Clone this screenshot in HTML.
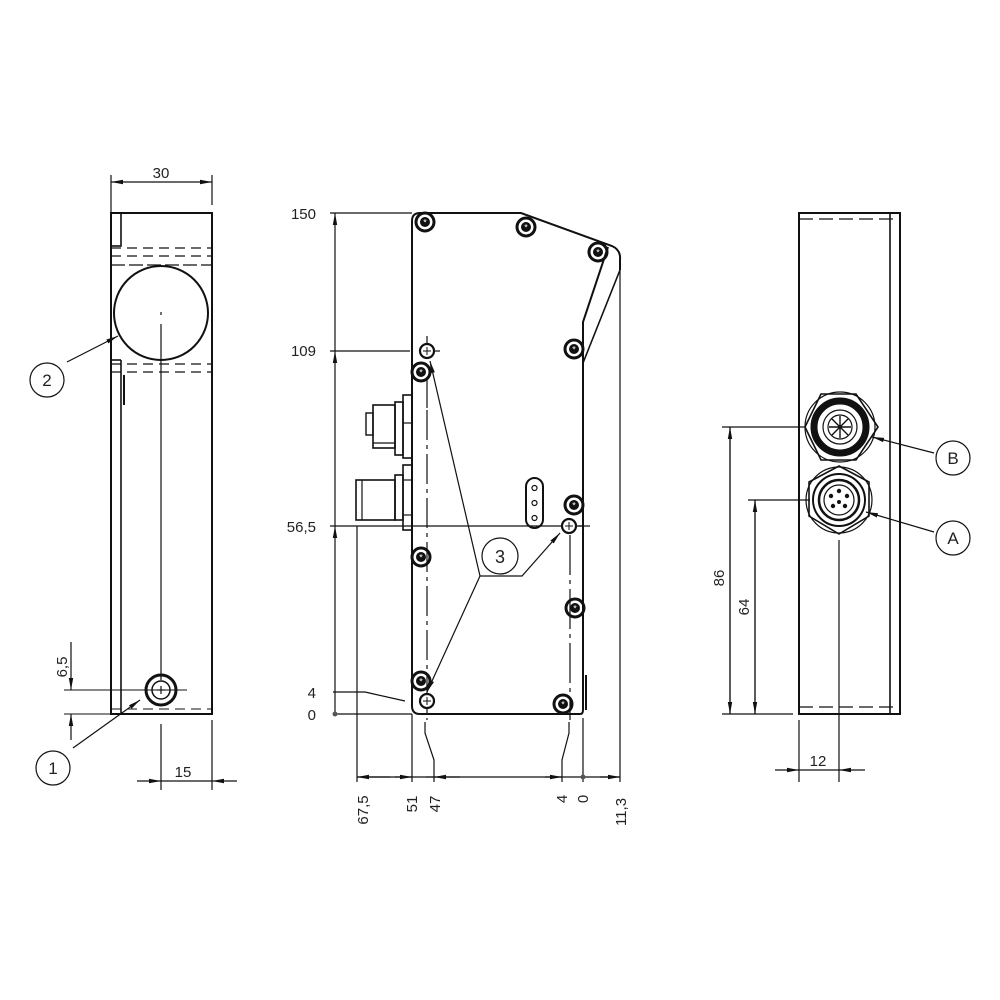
<!DOCTYPE html>
<html><head><meta charset="utf-8"><style>
html,body{margin:0;padding:0;background:#fff;}
svg{display:block;}
text{font-family:"Liberation Sans","DejaVu Sans",sans-serif;font-size:15px;fill:#222;}
</style></head><body>
<svg width="1000" height="1000" viewBox="0 0 1000 1000" xmlns="http://www.w3.org/2000/svg">
<defs>
<marker id="ar" viewBox="0 0 12 6" refX="12" refY="3" markerWidth="12" markerHeight="6" markerUnits="userSpaceOnUse" orient="auto-start-reverse"><path d="M0,0.8 L12,3 L0,5.2Z" fill="#111"/></marker>
<g id="scr"><circle r="9" fill="none" stroke="#111" stroke-width="3"/><circle r="5" fill="#111"/><text x="0" y="3.5" text-anchor="middle" style="font-size:9px;fill:#fff">*</text></g>
<g id="hol"><circle r="7" fill="#fff" stroke="#111" stroke-width="2.2"/><line x1="-4" y1="0" x2="4" y2="0" stroke="#111" stroke-width="1"/><line x1="0" y1="-4" x2="0" y2="4" stroke="#111" stroke-width="1"/></g>
</defs>
<g fill="none" stroke="#111" stroke-width="1.2">
<!-- LEFT VIEW -->
<rect x="111" y="213" width="101" height="501" stroke-width="2"/>
<rect x="111" y="213" width="10" height="33" stroke-width="1.6"/>
<line x1="111" y1="248" x2="212" y2="248" stroke-dasharray="10,6"/>
<line x1="111" y1="256" x2="212" y2="256" stroke-dasharray="10,6"/>
<line x1="111" y1="265" x2="212" y2="265" stroke-dasharray="14,4"/>
<circle cx="161" cy="313" r="47" stroke-width="2"/>
<line x1="111" y1="364" x2="212" y2="364" stroke-dasharray="10,6"/>
<line x1="111" y1="372" x2="212" y2="372" stroke-dasharray="10,6"/>
<line x1="121" y1="360" x2="121" y2="714" stroke-width="1.6"/>
<line x1="111" y1="360" x2="121" y2="360" stroke-width="1.6"/>
<line x1="124" y1="375" x2="124" y2="405" stroke-width="2"/>
<line x1="161" y1="312" x2="161" y2="315"/>
<line x1="161" y1="324" x2="161" y2="680"/>
<line x1="111" y1="709" x2="212" y2="709" stroke-dasharray="10,6" stroke-width="1"/>
<circle cx="161" cy="690" r="15" stroke-width="3"/>
<circle cx="161" cy="690" r="9" stroke-width="1.5"/>
<line x1="157" y1="690" x2="165" y2="690"/><line x1="161" y1="686" x2="161" y2="694"/>
<line x1="64" y1="690" x2="187" y2="690" stroke-width="1"/>
<line x1="64" y1="714" x2="111" y2="714" stroke-width="1"/>
<line x1="71" y1="642" x2="71" y2="690" marker-end="url(#ar)"/>
<line x1="71" y1="740" x2="71" y2="714" marker-end="url(#ar)"/>
<line x1="111" y1="175" x2="111" y2="213"/><line x1="212" y1="175" x2="212" y2="205"/>
<line x1="111" y1="182" x2="212" y2="182" marker-start="url(#ar)" marker-end="url(#ar)"/>
<line x1="161" y1="724" x2="161" y2="790"/><line x1="212" y1="720" x2="212" y2="790"/>
<line x1="137" y1="781" x2="161" y2="781" marker-end="url(#ar)"/>
<line x1="237" y1="781" x2="212" y2="781" marker-end="url(#ar)"/>
<line x1="161" y1="781" x2="212" y2="781"/>
<circle cx="53" cy="768" r="17"/>
<line x1="73" y1="748" x2="140" y2="700" marker-end="url(#ar)"/>
<circle cx="47" cy="380" r="17"/>
<line x1="67" y1="362" x2="118" y2="336" marker-end="url(#ar)"/>

<!-- MIDDLE VIEW -->
<path d="M420,213 L521,213 L612,246 Q621,250 620,260 L620,270" stroke-width="2"/>
<path d="M420,213 Q412,213 412,221 L412,706 Q412,714 420,714 L580,714 Q583,714 583,710 L583,322 L608,247" stroke-width="2"/>
<line x1="620" y1="270" x2="583" y2="363" stroke-width="1.6"/>
<line x1="620" y1="270" x2="620" y2="782"/>
<line x1="586" y1="675" x2="586" y2="710" stroke-width="2"/>
<line x1="427" y1="336" x2="427" y2="345"/>
<line x1="427" y1="378" x2="427" y2="410" stroke-dasharray="30,5,4,5"/>
<line x1="427" y1="410" x2="427" y2="720" stroke-dasharray="30,5,4,5"/>
<line x1="570" y1="535" x2="570" y2="720" stroke-dasharray="40,5,4,5"/>
<!-- connectors -->
<rect x="403" y="395" width="9" height="63" stroke-width="1.6"/>
<line x1="403" y1="423" x2="412" y2="423"/>
<rect x="395" y="402" width="8" height="53" stroke-width="1.6"/>
<rect x="373" y="405" width="22" height="43" stroke-width="1.6"/>
<rect x="366" y="413" width="7" height="22" stroke-width="1.4"/>
<line x1="373" y1="443" x2="395" y2="443"/>
<rect x="403" y="465" width="9" height="65" stroke-width="1.6"/>
<line x1="403" y1="480" x2="412" y2="480"/><line x1="403" y1="515" x2="412" y2="515"/>
<rect x="395" y="475" width="8" height="45" stroke-width="1.6"/>
<rect x="356" y="480" width="39" height="40" stroke-width="1.6"/>
<line x1="362" y1="480" x2="362" y2="520"/>
<!-- slot -->
<rect x="526" y="478" width="17" height="50" rx="8.5" stroke-width="2"/>
<circle cx="534.5" cy="488" r="2.5"/><circle cx="534.5" cy="503" r="2.5"/><circle cx="534.5" cy="518" r="2.5"/>
<!-- dims -->
<line x1="330" y1="213" x2="412" y2="213"/>
<line x1="330" y1="351" x2="410" y2="351"/><line x1="434" y1="351" x2="440" y2="351"/>
<line x1="330" y1="526" x2="583" y2="526"/><line x1="578" y1="526" x2="590" y2="526"/>
<line x1="335" y1="714" x2="412" y2="714"/>
<line x1="335" y1="351" x2="335" y2="213" marker-end="url(#ar)"/>
<line x1="335" y1="526" x2="335" y2="351" marker-end="url(#ar)"/>
<line x1="335" y1="714" x2="335" y2="526" marker-end="url(#ar)"/>
<line x1="333" y1="692" x2="365" y2="692"/><line x1="365" y1="692" x2="405" y2="701"/>
<line x1="357" y1="526" x2="357" y2="782"/>
<line x1="412" y1="714" x2="412" y2="782"/>
<path d="M425,722 L425,733 L434,760 L434,782"/>
<path d="M569,722 L569,733 L562,760 L562,782"/>
<line x1="583" y1="718" x2="583" y2="782"/>
<line x1="357" y1="777" x2="620" y2="777"/>
<line x1="390" y1="777" x2="357" y2="777" marker-end="url(#ar)"/>
<line x1="395" y1="777" x2="412" y2="777" marker-end="url(#ar)"/>
<line x1="433" y1="777" x2="426" y2="777"/>
<line x1="460" y1="777" x2="434" y2="777" marker-end="url(#ar)"/>
<line x1="545" y1="777" x2="562" y2="777" marker-end="url(#ar)"/>
<line x1="600" y1="777" x2="620" y2="777" marker-end="url(#ar)"/>
<!-- callout 3 -->
<circle cx="500" cy="556" r="18"/>
<path d="M480,576 L522,576 L560,533" marker-end="url(#ar)"/>
<line x1="480" y1="576" x2="430" y2="361" marker-end="url(#ar)"/>
<line x1="480" y1="576" x2="427" y2="692" marker-end="url(#ar)"/>

<!-- RIGHT VIEW -->
<rect x="799" y="213" width="101" height="501" stroke-width="2"/>
<line x1="890" y1="213" x2="890" y2="714" stroke-width="1.6"/>
<line x1="799" y1="219" x2="900" y2="219" stroke-dasharray="14,6"/>
<line x1="799" y1="707" x2="900" y2="707" stroke-dasharray="14,6"/>
<line x1="839" y1="540" x2="839" y2="782"/>
<polygon points="821,394 856,394 878,427 856,460 821,460 805,427" stroke-width="1.6"/>
<circle cx="840" cy="427" r="35"/>
<circle cx="840" cy="427" r="26" stroke-width="7"/>
<circle cx="840" cy="427" r="17"/>
<circle cx="840" cy="427" r="12"/>
<path d="M832,419 L848,435 M848,419 L832,435 M840,416 L840,438 M829,427 L851,427" stroke-width="1.4"/>
<polygon points="839,466 869,482 869,516 839,534 809,516 809,482" stroke-width="1.6"/>
<circle cx="839" cy="500" r="33"/>
<circle cx="839" cy="500" r="26" stroke-width="2"/>
<circle cx="839" cy="500" r="20" stroke-width="2.5"/>
<circle cx="839" cy="500" r="15"/>
<g fill="#111" stroke="none"><circle cx="839" cy="491" r="2.2"/><circle cx="831" cy="496" r="2.2"/><circle cx="847" cy="496" r="2.2"/><circle cx="833" cy="506" r="2.2"/><circle cx="845" cy="506" r="2.2"/><circle cx="839" cy="502" r="2"/></g>
<line x1="722" y1="427" x2="805" y2="427"/>
<line x1="748" y1="500" x2="810" y2="500"/>
<line x1="722" y1="714" x2="793" y2="714"/>
<line x1="730" y1="714" x2="730" y2="427" marker-end="url(#ar)"/>
<line x1="730" y1="427" x2="730" y2="714" marker-end="url(#ar)"/>
<line x1="755" y1="714" x2="755" y2="500" marker-end="url(#ar)"/>
<line x1="755" y1="500" x2="755" y2="714" marker-end="url(#ar)"/>
<line x1="799" y1="720" x2="799" y2="782"/>
<line x1="775" y1="770" x2="799" y2="770" marker-end="url(#ar)"/>
<line x1="865" y1="770" x2="839" y2="770" marker-end="url(#ar)"/>
<line x1="799" y1="770" x2="839" y2="770"/>
<circle cx="953" cy="458" r="17"/>
<line x1="934" y1="453" x2="872" y2="437" marker-end="url(#ar)"/>
<circle cx="953" cy="538" r="17"/>
<line x1="934" y1="532" x2="866" y2="512" marker-end="url(#ar)"/>
</g>
<!-- screws & holes -->
<use href="#scr" x="425" y="222"/><use href="#scr" x="526" y="227"/><use href="#scr" x="598" y="252"/>
<use href="#scr" x="574" y="349"/><use href="#scr" x="421" y="372"/><use href="#scr" x="574" y="505"/>
<use href="#scr" x="421" y="557"/><use href="#scr" x="575" y="608"/><use href="#scr" x="421" y="681"/>
<use href="#scr" x="563" y="704"/>
<use href="#hol" x="427" y="351"/><use href="#hol" x="569" y="526"/><use href="#hol" x="427" y="701"/>
<circle cx="335" cy="714" r="2.5" fill="#555"/><circle cx="583" cy="777" r="2.5" fill="#555"/>
<!-- text -->
<text x="161" y="178" text-anchor="middle">30</text>
<text x="183" y="777" text-anchor="middle">15</text>
<text transform="translate(67,667) rotate(-90)" text-anchor="middle">6,5</text>
<text x="53" y="774" text-anchor="middle" style="font-size:17px">1</text>
<text x="47" y="386" text-anchor="middle" style="font-size:17px">2</text>
<text x="500" y="563" text-anchor="middle" style="font-size:18px">3</text>
<text x="316" y="219" text-anchor="end">150</text>
<text x="316" y="356" text-anchor="end">109</text>
<text x="316" y="532" text-anchor="end">56,5</text>
<text x="316" y="698" text-anchor="end">4</text>
<text x="316" y="720" text-anchor="end">0</text>
<text transform="translate(368,810) rotate(-90)" text-anchor="middle">67,5</text>
<text transform="translate(417,804) rotate(-90)" text-anchor="middle">51</text>
<text transform="translate(440,804) rotate(-90)" text-anchor="middle">47</text>
<text transform="translate(567,799) rotate(-90)" text-anchor="middle">4</text>
<text transform="translate(588,799) rotate(-90)" text-anchor="middle">0</text>
<text transform="translate(626,812) rotate(-90)" text-anchor="middle">11,3</text>
<text transform="translate(724,578) rotate(-90)" text-anchor="middle">86</text>
<text transform="translate(749,607) rotate(-90)" text-anchor="middle">64</text>
<text x="818" y="766" text-anchor="middle">12</text>
<text x="953" y="464" text-anchor="middle" style="font-size:17px">B</text>
<text x="953" y="544" text-anchor="middle" style="font-size:17px">A</text>
</svg>
</body></html>
